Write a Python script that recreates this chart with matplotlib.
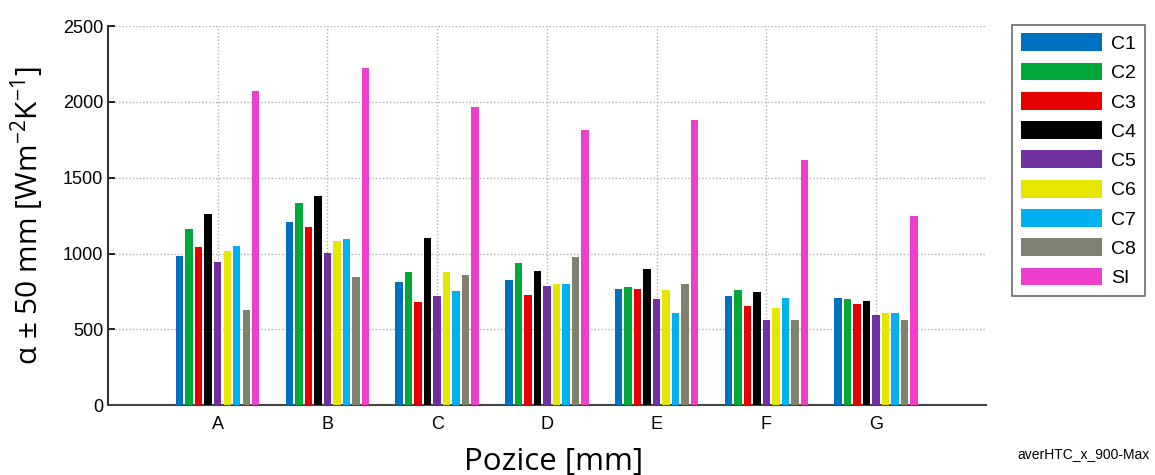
import numpy as np
import matplotlib.pyplot as plt

positions = ['A', 'B', 'C', 'D', 'E', 'F', 'G']
series = ['C1', 'C2', 'C3', 'C4', 'C5', 'C6', 'C7', 'C8', 'SI']

c1 = [982, 1207, 815, 824, 769, 723, 708]
c2 = [1163, 1334, 877, 936, 778, 758, 699]
c3 = [1040, 1174, 679, 727, 765, 653, 670]
c4 = [1264, 1378, 1101, 886, 895, 745, 690]
c5 = [945, 1005, 719, 787, 697, 563, 598]
c6 = [1018, 1086, 879, 800, 760, 640, 609]
c7 = [1053, 1099, 756, 800, 605, 706, 609]
c8 = [631, 844, 857, 974, 800, 563, 563]
si = [2070, 2227, 1965, 1818, 1882, 1616, 1246]

colors = ['#0070C0', '#00A838', '#E60000', '#000000', '#7030A0',
          '#E6E600', '#00B0F0', '#7F8270', '#EE3FCC']

values = [c1, c2, c3, c4, c5, c6, c7, c8, si]

fig = plt.figure(figsize=(11.55, 4.75), dpi=100)
ax = fig.add_axes([0.0935, 0.147, 0.76, 0.798])

x = np.arange(1, len(positions) + 1)
n = len(series)
slot = 0.78 / n
bw = slot * 0.78
for i, (name, vals) in enumerate(zip(series, values)):
    off = (i - (n - 1) / 2) * slot
    ax.bar(x + off, vals, width=bw, color=colors[i], label=name, zorder=3)

ax.set_xlim(0, 8)
ax.set_ylim(0, 2500)
ax.set_xticks(x)
ax.set_xticklabels(positions, fontsize=13, family='Liberation Sans')
ax.set_yticks(np.arange(0, 2501, 500))
ax.tick_params(axis='y', labelsize=13, direction='in', length=5, width=1.2)
ax.tick_params(axis='x', length=0, pad=8)
for t in ax.get_yticklabels():
    t.set_family('Liberation Sans')

ax.grid(True, linestyle=(0, (1, 1.5)), color='#b0b0b0', linewidth=1, zorder=0)
ax.spines['top'].set_visible(False)
ax.spines['right'].set_visible(False)
ax.spines['left'].set_linewidth(1.5)
ax.spines['bottom'].set_linewidth(1.5)
ax.spines['left'].set_color('#333333')
ax.spines['bottom'].set_color('#444444')

plt.rcParams['mathtext.fontset'] = 'custom'
plt.rcParams['mathtext.rm'] = 'Open Sans'
ax.set_ylabel('α ± 50 mm [Wm$^{\\mathregular{-2}}$K$^{\\mathregular{-1}}$]',
              fontsize=21.5, family='Open Sans')
ax.yaxis.set_label_coords(-0.07, 0.5)
ax.set_xlabel('Pozice [mm]', fontsize=22.5, family='Open Sans')
ax.xaxis.set_label_coords(0.508, -0.11)

leg = fig.legend(loc='upper left', bbox_to_anchor=(0.876, 0.948),
                 handlelength=4.2, handleheight=1.03, labelspacing=0.5,
                 borderpad=0.45, handletextpad=0.45, borderaxespad=0,
                 fancybox=False, edgecolor='#444444', frameon=True,
                 prop={'family': 'Liberation Sans', 'size': 14})
leg.get_frame().set_linewidth(1.2)

fig.text(0.995, 0.045, 'averHTC_x_900-Max', ha='right', va='center',
         fontsize=10, family='Liberation Sans')

fig.savefig('out.png', dpi=100)
